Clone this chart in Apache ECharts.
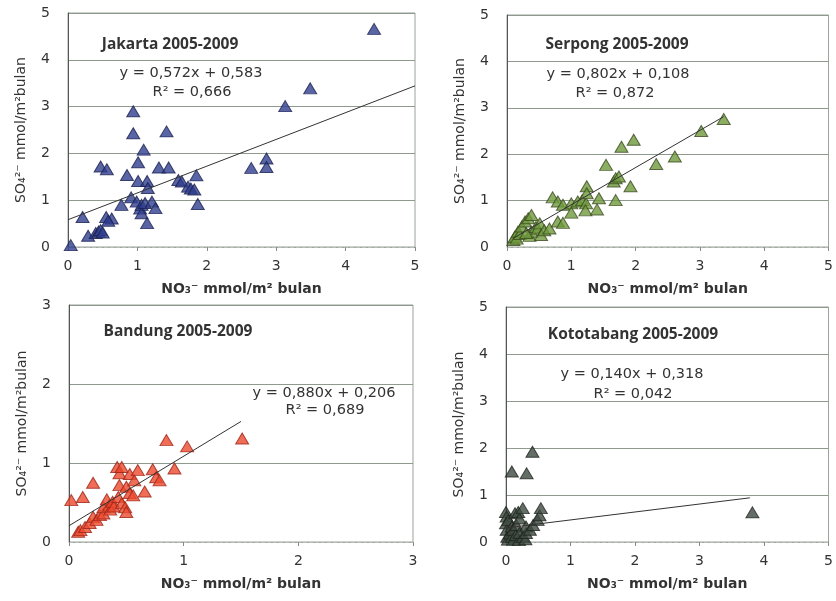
<!DOCTYPE html>
<html><head><meta charset="utf-8">
<script src="https://cdn.jsdelivr.net/npm/echarts@6/dist/echarts.min.js"></script>
<style>html,body{margin:0;padding:0;background:#fff}#c{width:836px;height:601px}</style>
</head><body><div id="c"></div>
<script>
// ---- data (NO3-, SO4 2-) ----
const jakarta = [[0.04,0.04],[0.21,0.64],[0.29,0.24],[0.40,0.30],[0.44,0.33],[0.47,0.36],[0.50,0.31],[0.47,1.72],[0.56,1.66],[0.55,0.64],[0.63,0.61],[0.58,0.56],[0.77,0.90],[0.85,1.54],[0.91,1.06],[0.94,2.90],[0.94,2.43],[0.99,0.97],[1.01,1.81],[1.01,1.41],[1.04,0.82],[1.06,0.90],[1.06,0.72],[1.09,2.08],[1.11,0.94],[1.14,1.41],[1.14,0.51],[1.15,1.26],[1.21,0.97],[1.26,0.83],[1.31,1.70],[1.42,2.47],[1.45,1.70],[1.59,1.43],[1.64,1.40],[1.73,1.29],[1.77,1.25],[1.82,1.23],[1.85,1.53],[1.87,0.92],[2.64,1.69],[2.86,1.89],[2.86,1.71],[3.13,3.01],[3.49,3.39],[4.41,4.66]];
const serpong = [[0.10,0.15],[0.12,0.22],[0.15,0.18],[0.17,0.33],[0.20,0.28],[0.23,0.44],[0.28,0.55],[0.33,0.62],[0.38,0.69],[0.35,0.24],[0.38,0.33],[0.30,0.30],[0.45,0.43],[0.48,0.40],[0.51,0.51],[0.53,0.26],[0.58,0.36],[0.66,0.40],[0.71,1.07],[0.79,0.98],[0.87,0.91],[0.79,0.55],[0.87,0.52],[1.00,0.94],[1.00,0.74],[1.10,0.98],[1.17,1.01],[1.23,0.94],[1.22,0.79],[1.24,1.31],[1.24,1.16],[1.40,0.81],[1.43,1.05],[1.54,1.77],[1.66,1.41],[1.69,1.48],[1.74,1.52],[1.69,1.01],[1.92,1.31],[1.78,2.16],[1.97,2.31],[2.32,1.79],[2.61,1.95],[3.02,2.50],[3.37,2.76]];
const bandung = [[0.02,0.53],[0.08,0.13],[0.10,0.15],[0.12,0.57],[0.14,0.19],[0.18,0.24],[0.21,0.32],[0.21,0.75],[0.24,0.28],[0.27,0.34],[0.30,0.36],[0.30,0.44],[0.33,0.54],[0.35,0.46],[0.36,0.41],[0.38,0.51],[0.39,0.45],[0.42,0.95],[0.43,0.57],[0.44,0.87],[0.44,0.72],[0.46,0.95],[0.46,0.49],[0.49,0.44],[0.50,0.70],[0.50,0.38],[0.53,0.86],[0.53,0.62],[0.56,0.59],[0.57,0.78],[0.60,0.91],[0.66,0.64],[0.73,0.92],[0.76,0.82],[0.79,0.78],[0.85,1.29],[0.92,0.93],[1.03,1.21],[1.51,1.31]];
const kototabang = [[0.00,0.64],[0.01,0.54],[0.00,0.40],[0.01,0.26],[0.02,0.11],[0.03,0.05],[0.04,0.47],[0.06,0.18],[0.09,0.11],[0.09,0.33],[0.11,0.26],[0.12,0.05],[0.14,0.61],[0.15,0.15],[0.16,0.36],[0.19,0.64],[0.20,0.04],[0.21,0.50],[0.21,0.19],[0.26,0.72],[0.26,0.11],[0.30,0.06],[0.31,0.19],[0.31,0.33],[0.37,0.26],[0.42,0.36],[0.49,0.47],[0.52,0.57],[0.54,0.72],[0.09,1.50],[0.32,1.46],[0.41,1.92],[3.82,0.63]];
// trendline endpoints
const jakartaTrend = [[0,0.583],[5,3.443]];
const serpongTrend = [[0.10,0.19],[3.37,2.81]];
const bandungTrend = [[0,0.206],[1.50,1.526]];
const kototabangTrend = [[0,0.30],[3.78,0.94]];
const titles = ['Jakarta 2005-2009','Serpong 2005-2009','Bandung 2005-2009','Kototabang 2005-2009'];
const equations = ['y = 0,572x + 0,583','y = 0,802x + 0,108','y = 0,880x + 0,206','y = 0,140x + 0,318'];
const r2 = ['R² = 0,666','R² = 0,872','R² = 0,689','R² = 0,042'];
const xMax = [5,5,3,5];
const yMax = [5,5,3,5];

const FONT = "'Open Sans','DejaVu Sans',sans-serif";
const DV = "'DejaVu Sans',sans-serif";
const grids = [
  {left:68, top:13, width:347, height:234},
  {left:507, top:15, width:325, height:232},
  {left:69, top:305, width:344, height:237},
  {left:506, top:307, width:328, height:235}
];
const colors = [
  {fill:'#2f3f8e', border:'#1a2050'},
  {fill:'#6e9a3c', border:'#3b4a20'},
  {fill:'#ec4a2e', border:'#9e2416'},
  {fill:'#3f4a40', border:'#1e241e'}
];
const scatterData = [jakarta, serpong, bandung, kototabang];
const trendData = [jakartaTrend, serpongTrend, bandungTrend, kototabangTrend];

const xAxes = [], yAxes = [], series = [];
grids.forEach((g,i)=>{
  g.show = true; g.borderColor = '#9aa39a'; g.borderWidth = 1; g.backgroundColor='#fff';
  xAxes.push({
    gridIndex:i, type:'value', min:0, max:xMax[i], interval:1,
    name:'NO₃⁻ mmol/m² bulan', nameLocation:'middle', nameGap:35,
    nameTextStyle:{fontFamily:DV, fontSize:14, fontWeight:'bold', color:'#333'},
    axisLine:{show:true, lineStyle:{color:'#b8bdb8', type:'dashed'}},
    axisTick:{show:true, inside:false, length:4, lineStyle:{color:'#888'}},
    axisLabel:{fontFamily:DV, fontSize:14, color:'#333', margin:12},
    splitLine:{show:false}
  });
  yAxes.push({
    gridIndex:i, type:'value', min:0, max:yMax[i], interval:1,
    name:'SO₄²⁻ mmol/m²bulan', nameLocation:'middle', nameGap:40,
    nameTextStyle:{fontFamily:DV, fontSize:14, color:'#333'},
    axisLine:{show:true, lineStyle:{color:'#555'}},
    axisTick:{show:false},
    axisLabel:{fontFamily:DV, fontSize:14, color:'#333', margin:18},
    splitLine:{show:true, lineStyle:{color:'#8f9a8f', width:1}}
  });
  series.push({
    type:'scatter', xAxisIndex:i, yAxisIndex:i, data:scatterData[i],
    symbol:'triangle', symbolSize:[13,11],
    itemStyle:{color:colors[i].fill, borderColor:colors[i].border, borderWidth:1}
  });
  series.push({
    type:'line', xAxisIndex:i, yAxisIndex:i, data:trendData[i],
    symbol:'none', lineStyle:{color:'#333', width:1}, z:3
  });
});

const txt = (x,y,t,bold)=>({type:'text', x, y, style:{text:t, fontFamily: bold?FONT:DV, fontSize: bold?15.5:14.5, fontWeight: bold?'bold':'normal', fill:'#333', align:'center', verticalAlign:'middle'}, z:10});
const titlePos = [[170,45],[617,45],[178,332],[633,335]];
const eqPos = [[191,73],[618,74],[324,393],[632,374]];
const r2Pos = [[192,92],[615,93],[325,410],[633,394]];
const graphic = [];
for (let i=0;i<4;i++){
  graphic.push(txt(titlePos[i][0],titlePos[i][1],titles[i],true));
  graphic.push(txt(eqPos[i][0],eqPos[i][1],equations[i],false));
  graphic.push(txt(r2Pos[i][0],r2Pos[i][1],r2[i],false));
}

const chart = echarts.init(document.getElementById('c'));
chart.setOption({
  animation:false,
  backgroundColor:'#fff',
  grid:grids, xAxis:xAxes, yAxis:yAxes, series, graphic
});
</script></body></html>
